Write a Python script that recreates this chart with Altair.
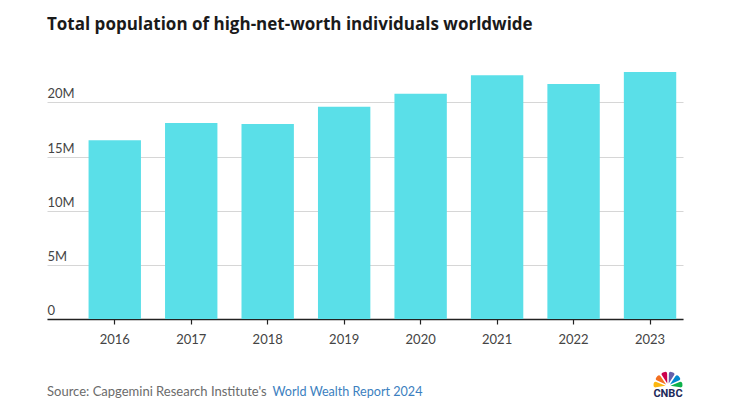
import altair as alt
import pandas as pd

years = ["2016", "2017", "2018", "2019", "2020", "2021", "2022", "2023"]
hnwi = [16.5e6, 18.1e6, 18.0e6, 19.6e6, 20.8e6, 22.5e6, 21.7e6, 22.8e6]
y_ticks = [0, 5e6, 10e6, 15e6, 20e6]

title_text = "Total population of high-net-worth individuals worldwide"
source_prefix = ["Source: Capgemini Research Institute's"]
source_link = ["World Wealth Report 2024"]
logo_text = ["CNBC"]
feather_colors = ["#FCB711", "#F37021", "#CC004C", "#6460AA", "#0089D0", "#0DB14B"]
feather_share = [1, 1, 1, 1, 1, 1]

W, H = 636, 260
FONT = "Lato"

df = pd.DataFrame({"year": years, "value": hnwi})

bars = alt.Chart(df).mark_bar(color="#5ADFE8").encode(
    x=alt.X(
        "year:N",
        sort=years,
        title=None,
        scale=alt.Scale(paddingInner=0.315, paddingOuter=0.316, align=0.86),
        axis=alt.Axis(
            labelAngle=0, domainColor="#222222", domainWidth=1.5,
            tickColor="#222222", tickSize=5, tickWidth=1.2,
            labelPadding=9, labelFontSize=13, labelColor="#444444",
            labelFont=FONT, grid=False,
        ),
    ),
    y=alt.Y(
        "value:Q",
        title=None,
        scale=alt.Scale(domain=[0, 24e6], nice=False),
        axis=alt.Axis(
            values=y_ticks, domain=False, ticks=False, tickSize=0,
            labelAlign="left", labelBaseline="alphabetic", labelPadding=0,
            labelOffset=-4.5, labelFontSize=13, labelColor="#444444",
            labelFont=FONT, gridColor="#D6D6D6", gridWidth=1,
            labelExpr="datum.value == 0 ? '0' : (datum.value / 1000000) + 'M'",
        ),
    ),
)

src1 = alt.Chart(pd.DataFrame({"t": source_prefix})).mark_text(
    align="left", baseline="alphabetic", font=FONT, fontSize=13, color="#6B6B6B"
).encode(text="t:N", x=alt.value(0), y=alt.value(H + 77))

src2 = alt.Chart(pd.DataFrame({"t": source_link})).mark_text(
    align="left", baseline="alphabetic", font=FONT, fontSize=12.6, color="#3C7FC0"
).encode(text="t:N", x=alt.value(225.5), y=alt.value(H + 77))

logo = alt.Chart(pd.DataFrame({"t": logo_text})).mark_text(
    align="center", baseline="alphabetic", font="Roboto", fontWeight="bold",
    fontSize=11, color="#1C2A5A"
).encode(text="t:N", x=alt.value(621), y=alt.value(H + 77.5))

feathers = alt.Chart(pd.DataFrame({
    "c": feather_colors, "v": feather_share, "o": list(range(len(feather_colors)))
})).mark_arc(innerRadius=2.5, outerRadius=14.5, padAngle=0.12, cornerRadius=2).encode(
    theta=alt.Theta("v:Q", stack=True, scale=alt.Scale(range=[-1.75, 1.75])),
    color=alt.Color("c:N", scale=alt.Scale(domain=feather_colors, range=feather_colors), legend=None),
    order=alt.Order("o:Q"),
    x=alt.value(621), y=alt.value(H + 67),
)

chart = alt.layer(bars, src1, src2, feathers, logo).resolve_scale(
    color="independent"
).properties(
    width=W, height=H,
    background="white",
    padding={"left": 39, "top": 51, "right": 20, "bottom": 90},
    autosize=alt.AutoSizeParams(type="none"),
    title=alt.TitleParams(
        title_text, anchor="start", frame="group", font="Open Sans", fontSize=17,
        fontWeight="bold", color="#1A1A1A", baseline="alphabetic", offset=12,
    ),
).configure_view(stroke=None)

chart.save("out.html", embed_options={"renderer": "svg", "actions": False})
